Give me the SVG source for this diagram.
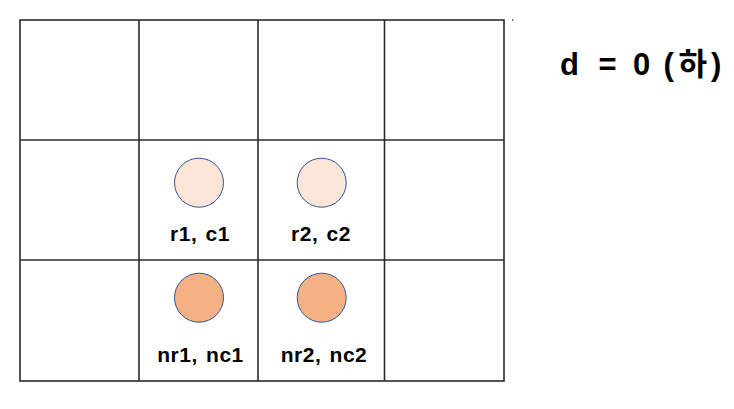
<svg xmlns="http://www.w3.org/2000/svg" width="734" height="409" viewBox="0 0 734 409">
<style>
.grid{stroke:#2b2b2b;stroke-width:1.6;fill:none}
.c1{fill:#FBE5D6;stroke:#2F5597;stroke-width:1}
.c2{fill:#F4B183;stroke:#2F5597;stroke-width:1}
.lbl{font-family:"Liberation Sans","Noto Sans CJK KR",sans-serif;font-weight:bold;font-size:21px;letter-spacing:0.5px;word-spacing:2px;fill:#000;text-anchor:middle}
.ttl{font-family:"Liberation Sans","Noto Sans CJK KR",sans-serif;font-weight:bold;font-size:31px;fill:#000}
</style>
<rect width="734" height="409" fill="#fff"/>
<g id="grid">
<rect class="grid" x="20" y="20" width="484" height="361"/>
<line class="grid" x1="139" y1="20" x2="139" y2="381"/>
<line class="grid" x1="258" y1="20" x2="258" y2="381"/>
<line class="grid" x1="384.5" y1="20" x2="384.5" y2="381"/>
<line class="grid" x1="20" y1="140" x2="504" y2="140"/>
<line class="grid" x1="20" y1="260" x2="504" y2="260"/>
<rect x="512" y="19" width="1.5" height="1.5" fill="#555"/>
</g>
<g id="n1"><circle class="c1" cx="199" cy="182.7" r="24.5"/><text class="lbl" x="200" y="241">r1, c1</text></g>
<g id="n2"><circle class="c1" cx="321.7" cy="182.7" r="24.5"/><text class="lbl" x="321" y="241">r2, c2</text></g>
<g id="n3"><circle class="c2" cx="199" cy="297.7" r="24.5"/><text class="lbl" x="200.5" y="362">nr1, nc1</text></g>
<g id="n4"><circle class="c2" cx="321.7" cy="297.7" r="24.5"/><text class="lbl" x="324" y="362">nr2, nc2</text></g>
<g id="connectors"></g>
<text class="ttl" y="75"><tspan x="560">d</tspan><tspan x="598.5">=</tspan><tspan x="633">0</tspan><tspan x="663.5">(</tspan><tspan x="678.5">하</tspan><tspan x="711">)</tspan></text>
</svg>
